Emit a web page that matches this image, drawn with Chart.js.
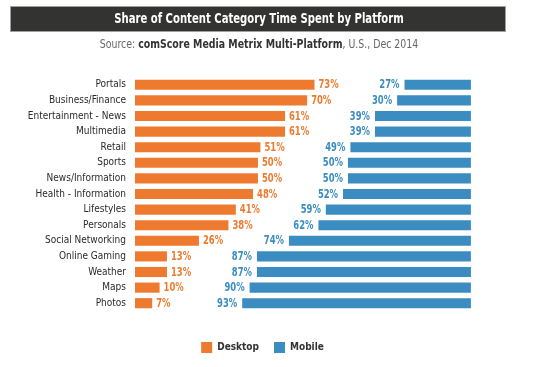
<!DOCTYPE html>
<html>
<head>
<meta charset="utf-8">
<script src="https://cdn.jsdelivr.net/npm/chart.js@4"></script>
<style>
  html, body { margin: 0; padding: 0; background: #ffffff; }
  #wrap { position: relative; width: 533px; height: 367px; }
  canvas { display: block; }
</style>
</head>
<body>
<div id="wrap"><canvas id="c" width="533" height="367"></canvas></div>
<script>
// ---- Data ----
const categories = ["Portals", "Business/Finance", "Entertainment - News", "Multimedia", "Retail", "Sports",
  "News/Information", "Health - Information", "Lifestyles", "Personals", "Social Networking",
  "Online Gaming", "Weather", "Maps", "Photos"];
const desktop = [73, 70, 61, 61, 51, 50, 50, 48, 41, 38, 26, 13, 13, 10, 7];
const mobile  = [27, 30, 39, 39, 49, 50, 50, 52, 59, 62, 74, 87, 87, 90, 93];
const seriesNames = ["Desktop", "Mobile"];
const titleText = "Share of Content Category Time Spent by Platform";
const subtitleParts = [
  { text: "Source: ", bold: false },
  { text: "comScore Media Metrix Multi-Platform", bold: true },
  { text: ", U.S., Dec 2014", bold: false }
];

// ---- Style ----
const ORANGE = "#ee7a2f";
const BLUE = "#3a8cc1";
const FONT = "'DejaVu Sans Condensed', 'Liberation Sans Narrow', sans-serif";
const GAP = 36.6;     // blank space (in % units) between the two bars, holds the labels
const X_MAX = 158.6;  // axis extent so the bars end where the reference's do

const gapValues = categories.map(() => GAP);

function squeezeText(ctx, text, x, y, align, sx) {
  ctx.save();
  ctx.translate(x, y);
  ctx.scale(sx, 1);
  ctx.textAlign = align;
  ctx.fillText(text, 0, 0);
  ctx.restore();
}

const headerPlugin = {
  id: "header",
  afterDraw(chart) {
    const ctx = chart.ctx;
    ctx.save();
    ctx.fillStyle = "#333331";
    ctx.fillRect(10, 6, 496, 26);
    ctx.strokeStyle = "#a0a0a0";
    ctx.lineWidth = 1;
    ctx.strokeRect(10.5, 6.5, 495, 25);
    ctx.fillStyle = "#ffffff";
    ctx.font = "bold 14px " + FONT;
    ctx.textBaseline = "middle";
    squeezeText(ctx, titleText, 259, 19.5, "center", 0.8);
    // subtitle with mixed weights
    const sx = 0.87;
    const fontN = "12px " + FONT, fontB = "bold 12px " + FONT;
    let total = 0;
    subtitleParts.forEach(p => { ctx.font = p.bold ? fontB : fontN; total += ctx.measureText(p.text).width * sx; });
    let x = 259 - total / 2;
    subtitleParts.forEach(p => {
      ctx.font = p.bold ? fontB : fontN;
      ctx.fillStyle = p.bold ? "#333333" : "#666666";
      squeezeText(ctx, p.text, x, 45, "left", sx);
      x += ctx.measureText(p.text).width * sx;
    });
    ctx.restore();
  }
};

const valueLabelPlugin = {
  id: "valueLabels",
  afterDatasetsDraw(chart) {
    const ctx = chart.ctx;
    ctx.save();
    ctx.font = "bold 12px " + FONT;
    ctx.textBaseline = "middle";
    chart.getDatasetMeta(0).data.forEach((el, i) => {
      ctx.fillStyle = ORANGE;
      squeezeText(ctx, desktop[i] + "%", el.x + 4, el.y + 0.5, "left", 0.78);
    });
    chart.getDatasetMeta(2).data.forEach((el, i) => {
      ctx.fillStyle = BLUE;
      squeezeText(ctx, mobile[i] + "%", el.base - 5, el.y + 0.5, "right", 0.78);
    });
    ctx.restore();
  }
};

new Chart(document.getElementById("c"), {
  type: "bar",
  data: {
    labels: categories,
    datasets: [
      { label: seriesNames[0], data: desktop, backgroundColor: ORANGE },
      { label: "gap", data: gapValues, backgroundColor: "rgba(0,0,0,0)" },
      { label: seriesNames[1], data: mobile, backgroundColor: BLUE }
    ]
  },
  options: {
    indexAxis: "y",
    responsive: false,
    animation: false,
    layout: { padding: { top: 77, right: 8, left: 0, bottom: 4 } },
    datasets: { bar: { barPercentage: 0.65, categoryPercentage: 1.0 } },
    scales: {
      x: {
        stacked: true, min: 0, max: X_MAX,
        grid: { display: false, drawTicks: false }, border: { display: false },
        ticks: { display: false },
        afterFit(scale) { scale.height = 16; }
      },
      y: {
        stacked: true,
        grid: { display: false, drawTicks: false }, border: { display: false },
        ticks: { color: "#2a2a2a", padding: 9, font: { family: FONT, size: 10 }, autoSkip: false },
        afterFit(scale) { scale.width = 135; }
      }
    },
    plugins: {
      legend: {
        position: "bottom",
        labels: {
          boxWidth: 11, boxHeight: 11, padding: 15, color: "#333333",
          font: { family: FONT, size: 10, weight: "bold" },
          filter: item => item.text !== "gap"
        }
      },
      tooltip: { enabled: false }
    }
  },
  plugins: [headerPlugin, valueLabelPlugin]
});
</script>
</body>
</html>
